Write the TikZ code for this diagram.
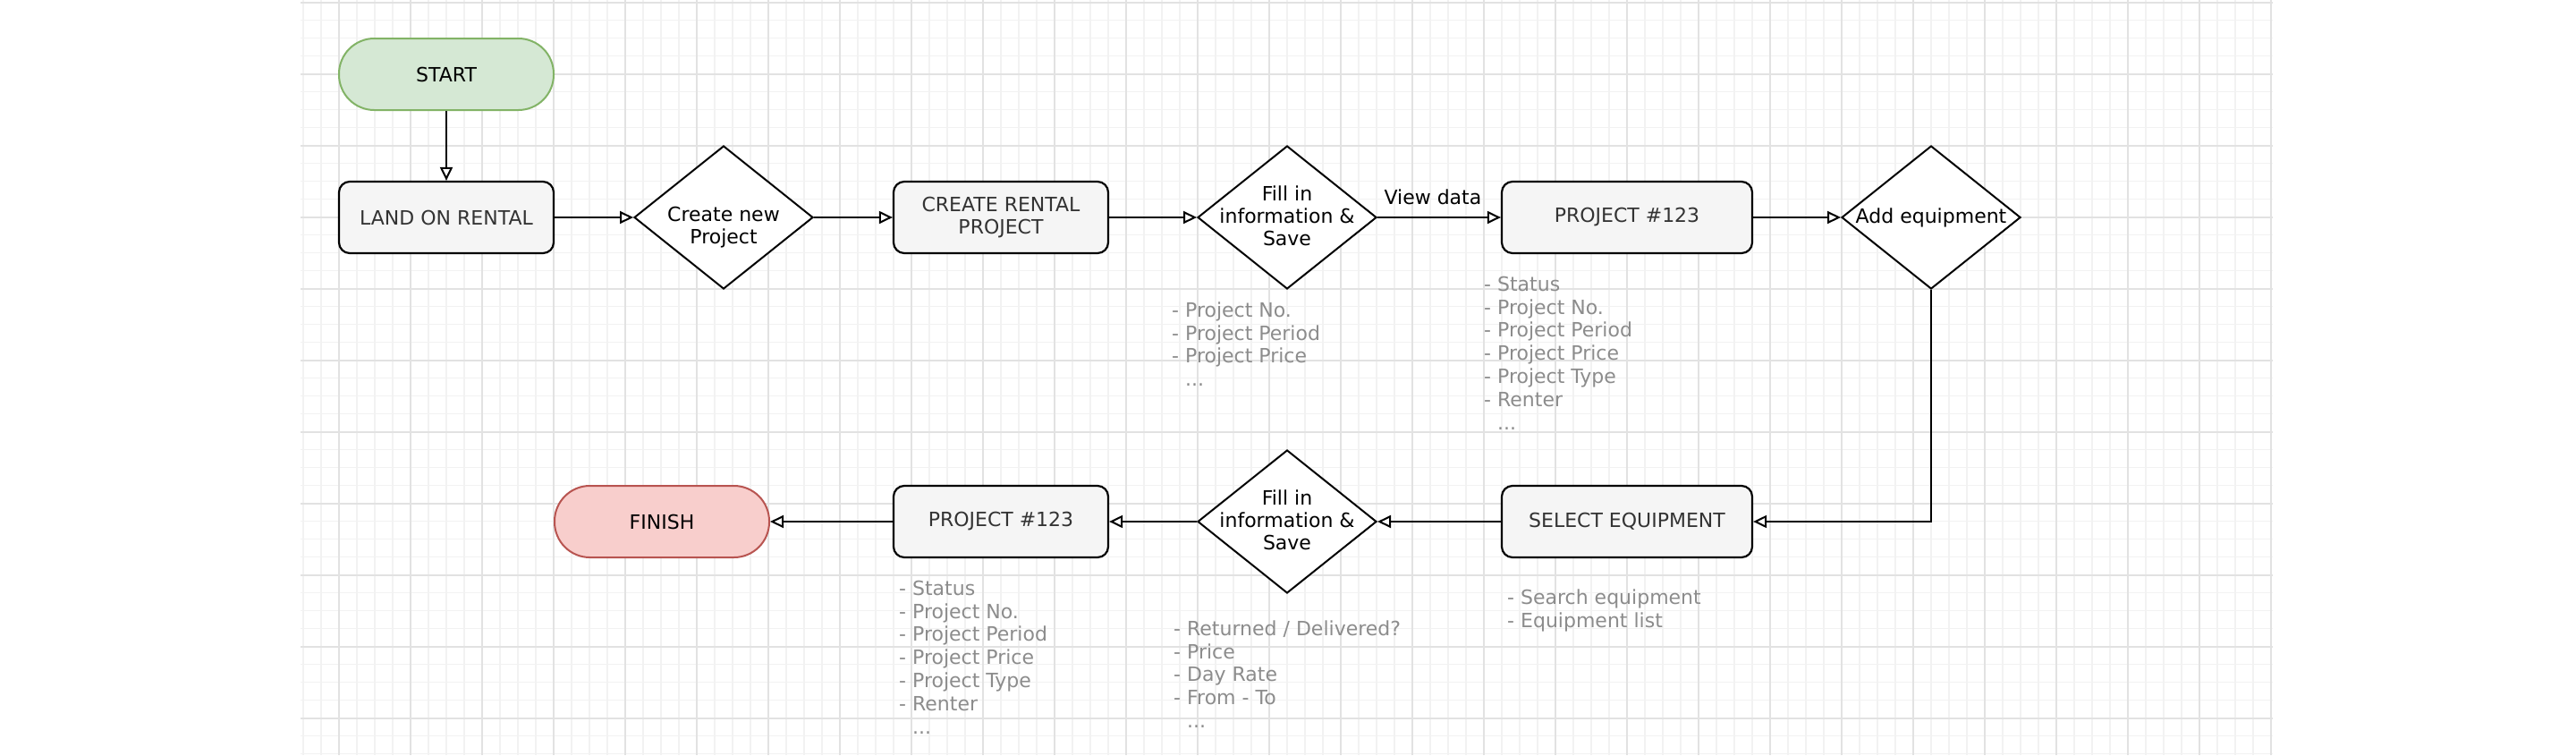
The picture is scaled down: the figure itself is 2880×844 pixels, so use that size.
\documentclass[tikz,border=0pt]{standalone}
\usepackage{fontspec}
\setmainfont{DejaVu Sans}
\usetikzlibrary{shapes.geometric,arrows.meta}
\definecolor{boxfill}{HTML}{F5F5F5}
\definecolor{boxtext}{HTML}{333333}
\definecolor{notegray}{HTML}{8C8C8C}
\definecolor{startfill}{HTML}{D5E8D4}
\definecolor{startline}{HTML}{82B366}
\definecolor{endfill}{HTML}{F8CECC}
\definecolor{endline}{HTML}{B85450}
\definecolor{gridminor}{HTML}{F2F2F2}
\definecolor{gridmajor}{HTML}{E2E2E2}
\begin{document}
\begin{tikzpicture}[x=1pt,y=-1pt,
  stepbox/.style={draw=black, line width=2.2pt, fill=boxfill, rounded corners=12pt,
    minimum width=240pt, minimum height=80pt, text=boxtext, inner sep=0pt,
    align=center, font=\fontsize{22}{25.7}\selectfont},
  widebox/.style={stepbox, minimum width=280pt},
  terminal/.style={line width=2pt, rounded corners=39.5pt, minimum width=240pt,
    minimum height=80pt, inner sep=0pt, font=\fontsize{22}{25}\selectfont},
  decision/.style={diamond, draw=black, line width=2pt, fill=white,
    minimum width=200pt, minimum height=160pt, inner sep=0pt},
  dtext/.style={align=center, font=\fontsize{22}{25}\selectfont, inner sep=0pt, text=black},
  note/.style={anchor=north west, inner sep=0pt, align=left, text=notegray,
    font=\fontsize{22}{25.8}\selectfont},
  flow/.style={line width=2pt, -{Triangle[length=15pt,width=14pt,fill=white]}},
  elabel/.style={font=\fontsize{22}{25}\selectfont, inner sep=0pt, text=black},
  minorline/.style={draw=gridminor, line width=1.3pt},
  majorline/.style={draw=gridmajor, line width=1.8pt},
]
\fill[white] (0,0) rectangle (2880,844);
\useasboundingbox (0,0) rectangle (2880,844);
% grid
\begin{scope}
  \clip (336,0) rectangle (2541,844);
  \foreach \gx in {339,359,...,2539} \draw[minorline] (\gx,0) -- (\gx,844);
  \foreach \gy in {2.7,22.7,...,843} \draw[minorline] (336,\gy) -- (2541,\gy);
  \foreach \gx in {379,459,...,2539} \draw[majorline] (\gx,0) -- (\gx,844);
  \foreach \gy in {2.7,82.7,...,843} \draw[majorline] (336,\gy) -- (2541,\gy);
\end{scope}
% nodes
\node[terminal, draw=startline, fill=startfill] (start) at (499,83) {START};
\node[stepbox] (land) at (499,243) {LAND ON RENTAL};
\node[decision, label={[dtext,yshift=-11pt]center:Create new\\Project}] (d1) at (809,243) {};
\node[stepbox] (create) at (1119,243) {CREATE RENTAL\\PROJECT};
\node[decision, label={[dtext,yshift=2pt]center:Fill in\\information \&\\Save}] (d2) at (1439,243) {};
\node[widebox] (proj1) at (1819,243) {PROJECT \#123};
\node[decision, label={[dtext]center:Add equipment}] (d3) at (2159,243) {};
\node[widebox] (sel) at (1819,583) {SELECT EQUIPMENT};
\node[decision, label={[dtext,yshift=2pt]center:Fill in\\information \&\\Save}] (d4) at (1439,583) {};
\node[stepbox] (proj2) at (1119,583) {PROJECT \#123};
\node[terminal, draw=endline, fill=endfill] (fin) at (740,583) {FINISH};
% notes
\node[note] (n1) at (1310,336) {\strut- Project No.\\\strut- Project Period\\\strut- Project Price\\\strut\hphantom{- }...};
\node[note] (n2) at (1659,307) {\strut- Status\\\strut- Project No.\\\strut- Project Period\\\strut- Project Price\\\strut- Project Type\\\strut- Renter\\\strut\hphantom{- }...};
\node[note] (n3) at (1005,647) {\strut- Status\\\strut- Project No.\\\strut- Project Period\\\strut- Project Price\\\strut- Project Type\\\strut- Renter\\\strut\hphantom{- }...};
\node[note] (n4) at (1312,692) {\strut- Returned / Delivered?\\\strut- Price\\\strut- Day Rate\\\strut- From - To\\\strut\hphantom{- }...};
\node[note] (n5) at (1685,657) {\strut- Search equipment\\\strut- Equipment list};
% connectors
\draw[flow] (start) -- (land);
\draw[flow] (land) -- (d1);
\draw[flow] (d1) -- (create);
\draw[flow] (create) -- (d2);
\draw[flow] (d2) -- node[elabel, above=13pt, xshift=-7pt] (vd) {View data} (proj1);
\draw[flow] (proj1) -- (d3);
\draw[flow] (d3.south) |- (sel.east);
\draw[flow] (sel) -- (d4);
\draw[flow] (d4) -- (proj2);
\draw[flow] (proj2) -- (fin);
\end{tikzpicture}
\end{document}
